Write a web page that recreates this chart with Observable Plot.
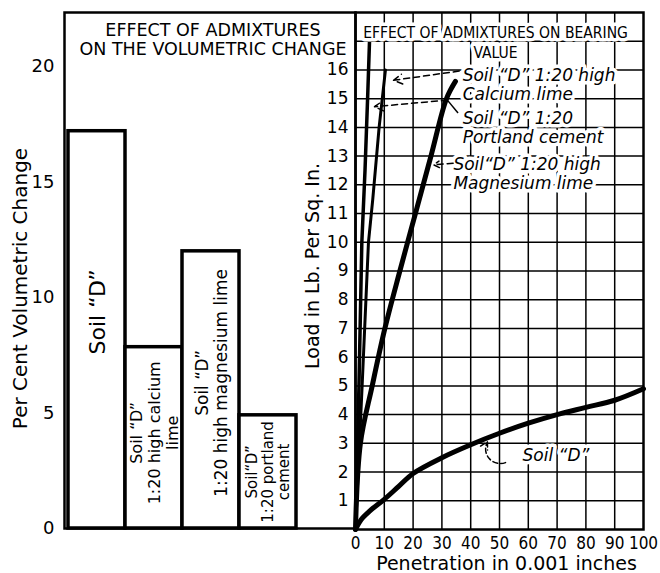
<!DOCTYPE html>
<html><head><meta charset="utf-8">
<script src="https://cdn.jsdelivr.net/npm/d3@7"></script>
<script src="https://cdn.jsdelivr.net/npm/@observablehq/plot@0.6"></script>
<style>
body{margin:0;background:#fff;}
#wrap{position:relative;width:660px;height:573px;overflow:hidden;background:#fff;}
#wrap svg{position:absolute;top:0;}
</style></head><body><div id="wrap"></div>
<script>
// ---------- data: left panel ----------
const barCategories = ["soilD", "calcium", "magnesium", "portland"];
const barValues = [17.2, 7.85, 12.0, 4.9];
const barLabels = [
  "Soil “D”",
  "Soil “D”\n1:20 high calcium\nlime",
  "Soil “D”\n1:20 high magnesium lime",
  "Soil“D”\n1:20 portland\ncement"
];
const leftTicks = [0, 5, 10, 15, 20];
const leftTitle = "EFFECT OF ADMIXTURES\nON THE VOLUMETRIC CHANGE";
const leftYLabel = "Per Cent Volumetric Change";

// ---------- data: right panel ----------
const soilD_x = [0, 2, 5, 10, 15, 20, 30, 40, 50, 60, 70, 80, 90, 100];
const soilD_y = [0, 0.35, 0.65, 1.05, 1.5, 1.95, 2.5, 2.95, 3.35, 3.7, 4.0, 4.25, 4.5, 4.9];
const calcium_x = [0, 2.3, 4.5, 6.0, 8.2, 10.4];
const calcium_y = [0, 5, 10, 11.5, 14, 16];
const portland_x = [0, 1.2, 2.2, 3.3, 4.2, 4.9];
const portland_y = [0, 5, 10, 12.5, 15, 17.1];
const magnesium_x = [0, 1.7, 5.8, 10.2, 15.4, 20.8, 26.2, 31.6, 34.7];
const magnesium_y = [0, 3.0, 5.0, 7.0, 9.0, 11.0, 13.0, 15.0, 15.6];
const xTicks = [0, 10, 20, 30, 40, 50, 60, 70, 80, 90, 100];
const yTicks = [1, 2, 3, 4, 5, 6, 7, 8, 9, 10, 11, 12, 13, 14, 15, 16];
const rightTitle = "EFFECT OF ADMIXTURES ON BEARING\nVALUE";
const rightYLabel = "Load in Lb. Per Sq. In.";
const rightXLabel = "Penetration in 0.001 inches";
const noteTexts = ["Soil “D” 1:20 high\nCalcium lime", "Soil “D” 1:20\nPortland cement", "Soil“D” 1:20 high\nMagnesium lime", "Soil “D”"];
const noteX = [37.2, 37.2, 34.0, 58.0];
const noteY = [15.5, 14.0, 12.4, 2.58];
const arrowX1 = [36.0, 31.9, 33.9];
const arrowY1 = [15.96, 14.95, 12.75];
const arrowX2 = [13.2, 6.6, 27.1];
const arrowY2 = [15.64, 14.72, 12.7];
const curvedArrow = {x1: 52.1, y1: 2.33, x2: 45.8, y2: 3.05};
const leaderX = [35.6, 31.9];
const leaderY = [14.5, 14.95];

const FONT = "'DejaVu Sans', sans-serif";
const COND = "'Liberation Sans Narrow', 'DejaVu Sans Condensed', 'DejaVu Sans', sans-serif";

const bars = barCategories.map((c, i) => ({cat: c, value: barValues[i], label: barLabels[i]}));
const series = [
  ["soilD", soilD_x, soilD_y],
  ["calcium", calcium_x, calcium_y],
  ["portland", portland_x, portland_y],
  ["magnesium", magnesium_x, magnesium_y]
];
const pts = series.flatMap(([k, xs, ys]) => xs.map((x, i) => ({k, x, y: ys[i]})));
const notes = noteTexts.map((t, i) => ({t, x: noteX[i], y: noteY[i]}));
const arrows = arrowX1.map((x1, i) => ({x1, y1: arrowY1[i], x2: arrowX2[i], y2: arrowY2[i]}));
const leader = [{x1: leaderX[0], y1: leaderY[0], x2: leaderX[1], y2: leaderY[1]}];

const barText = (i, fs, dy, lh) => Plot.text(bars.filter((d, j) => j === i), {
  x: "cat", y: d => d.value / 2, text: "label", rotate: -90, fontSize: fs, dy,
  lineHeight: lh, textAnchor: "middle", lineAnchor: "middle", fill: "black", fontFamily: FONT
});

const left = Plot.plot({
  width: 360, height: 573,
  marginLeft: 64, marginRight: 5, marginTop: 12, marginBottom: 45,
  x: {type: "band", domain: barCategories, range: [67, 297], padding: 0, axis: null},
  y: {domain: [0, 22.34]},
  style: {fontFamily: FONT, color: "black", background: "transparent"},
  marks: [
    Plot.barY(bars, {x: "cat", y: "value", fill: "white", stroke: "black", strokeWidth: 3.5, inset: 0}),
    Plot.frame({stroke: "black", strokeWidth: 2.5}),
    Plot.axisY({ticks: leftTicks, tickSize: 0, tickPadding: 10, fontSize: 18, label: null}),
    barText(0, 22, -18, 1.1),
    barText(1, 16, -5, 1.12),
    barText(2, 17, -7, 1.12),
    barText(3, 15, 0, 1.07),
    Plot.text([leftTitle], {frameAnchor: "top", text: d => d, dy: 10, dx: 3, lineAnchor: "top", fontSize: 17.5, lineHeight: 1.1, fill: "black"}),
    Plot.text([leftYLabel], {frameAnchor: "left", text: d => d, rotate: -90, textAnchor: "middle", lineAnchor: "middle", dx: -44, dy: 18, fontSize: 20, fill: "black"})
  ]
});

const right = Plot.plot({
  width: 370, height: 573,
  marginLeft: 65, marginRight: 17, marginTop: 12, marginBottom: 44,
  x: {domain: [0, 100]},
  y: {domain: [0, 18]},
  style: {fontFamily: FONT, color: "black", background: "transparent"},
  marks: [
    Plot.gridX(xTicks.slice(1, -1), {stroke: "black", strokeOpacity: 1, strokeWidth: 1.5}),
    Plot.gridY(d3.range(1, 18), {stroke: "black", strokeOpacity: 1, strokeWidth: 1.5}),
    Plot.frame({stroke: "black", strokeWidth: 2.5}),
    Plot.axisX({ticks: xTicks, tickSize: 0, tickPadding: 7, fontSize: 17, fontFamily: COND, label: null}),
    Plot.axisY({ticks: yTicks, tickSize: 0, tickPadding: 7, fontSize: 17, label: null}),
    Plot.line(pts.filter(d => d.k === "soilD"), {x: "x", y: "y", stroke: "black", strokeWidth: 5, curve: "catmull-rom"}),
    Plot.line(pts.filter(d => d.k === "magnesium"), {x: "x", y: "y", stroke: "black", strokeWidth: 5, curve: "catmull-rom"}),
    Plot.line(pts.filter(d => d.k === "portland"), {x: "x", y: "y", stroke: "black", strokeWidth: 3.5}),
    Plot.line(pts.filter(d => d.k === "calcium"), {x: "x", y: "y", stroke: "black", strokeWidth: 3}),
    Plot.text([rightTitle], {frameAnchor: "top", text: d => d, dy: 11, dx: -4, lineAnchor: "top", fontSize: 15.5, lineHeight: 1.3, fill: "black", stroke: "white", strokeWidth: 7, paintOrder: "stroke", fontFamily: COND}),
    Plot.text(notes, {x: "x", y: "y", text: "t", textAnchor: "start", lineAnchor: "middle", fontSize: 17, fontStyle: "italic", lineHeight: 1.12, fill: "black", stroke: "white", strokeWidth: 7, paintOrder: "stroke"}),
    Plot.arrow(arrows, {x1: "x1", y1: "y1", x2: "x2", y2: "y2", stroke: "black", strokeWidth: 1.5, strokeDasharray: "6,4", headLength: 10}),
    Plot.arrow([curvedArrow], {x1: "x1", y1: "y1", x2: "x2", y2: "y2", stroke: "black", strokeWidth: 1.5, strokeDasharray: "5,3", headLength: 8, bend: 70}),
    Plot.link(leader, {x1: "x1", y1: "y1", x2: "x2", y2: "y2", stroke: "black", strokeWidth: 1.5}),
    Plot.text([rightYLabel], {frameAnchor: "left", text: d => d, rotate: -90, textAnchor: "middle", lineAnchor: "middle", dx: -43, dy: -5, fontSize: 19, fill: "black"}),
    Plot.text([rightXLabel], {frameAnchor: "bottom", text: d => d, dy: 40, dx: 7, lineAnchor: "bottom", fontSize: 19, fill: "black"})
  ]
});

left.style.left = "0px";
right.style.left = "290px";
const wrap = document.getElementById("wrap");
wrap.appendChild(left);
wrap.appendChild(right);
</script></body></html>
